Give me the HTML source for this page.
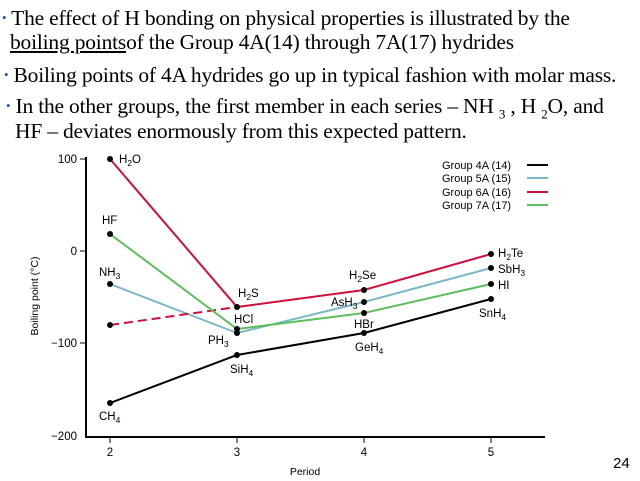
<!DOCTYPE html>
<html><head><style>
body{margin:0;width:640px;height:481px;background:#fff;overflow:hidden;position:relative;font-family:"Liberation Serif",serif;}
.t{position:absolute;font-size:21.5px;color:#000;white-space:nowrap;letter-spacing:-0.2px;line-height:24px}
.b{color:#1a4fd0;font-size:13px;vertical-align:3px}
svg{position:absolute;left:0;top:0}
</style></head><body>
<div class="t" style="left:2px;top:6px"><span class="b">•</span> The effect of H bonding on physical properties is illustrated by the</div>
<div class="t" style="left:10px;top:30px"><u>boiling points</u>of the Group 4A(14) through 7A(17) hydrides</div>
<div class="t" style="left:4px;top:63px"><span class="b">•</span> Boiling points of 4A hydrides go up in typical fashion with molar mass.</div>
<div class="t" style="left:6px;top:94px"><span class="b">•</span> In the other groups, the first member in each series – NH <sub style="font-size:13px">3</sub> , H <sub style="font-size:13px">2</sub>O, and</div>
<div class="t" style="left:15px;top:119px">HF – deviates enormously from this expected pattern.</div>
<svg width="640" height="481" font-family="Liberation Sans, sans-serif" font-size="11.5">
<g stroke="#000" stroke-width="2" fill="none">
<line x1="86" y1="157" x2="86" y2="437"/><line x1="85" y1="437" x2="545" y2="437"/>
</g>
<g stroke="#000" stroke-width="1">
<line x1="80" y1="159" x2="86" y2="159"/><line x1="80" y1="251" x2="86" y2="251"/><line x1="80" y1="343" x2="86" y2="343"/>
<line x1="110" y1="437" x2="110" y2="443"/><line x1="237" y1="437" x2="237" y2="443"/><line x1="364" y1="437" x2="364" y2="443"/><line x1="491" y1="437" x2="491" y2="443"/>
</g>
<g text-anchor="end"><text x="77" y="163">100</text><text x="77" y="255">0</text><text x="77" y="347">−100</text><text x="77" y="440">−200</text></g>
<g text-anchor="middle"><text x="110" y="456">2</text><text x="237" y="456">3</text><text x="364" y="456">4</text><text x="491" y="456">5</text><text x="305" y="475" font-size="10.5">Period</text></g>
<text transform="translate(38,296) rotate(-90)" text-anchor="middle" font-size="10.5">Boiling point (°C)</text>
<g fill="none" stroke-width="2">
<polyline stroke="#000" points="110,403 237,355 364,333 491,299"/>
<polyline stroke="#7ab8c8" points="110,284 237,333 364,302 491,268"/>
<polyline stroke="#d0103a" points="110,159 237,307 364,290 491,254"/>
<line stroke="#d0103a" x1="110" y1="325" x2="237" y2="307" stroke-dasharray="9,5"/>
<polyline stroke="#5cbf5c" points="110,234 237,329 364,313 491,284"/>
</g>
<g fill="#000">
<circle cx="110" cy="159" r="3"/><circle cx="110" cy="234" r="3"/><circle cx="110" cy="284" r="3"/><circle cx="110" cy="325" r="3"/><circle cx="110" cy="403" r="3"/>
<circle cx="237" cy="307" r="3"/><circle cx="237" cy="329" r="3"/><circle cx="237" cy="333" r="3"/><circle cx="237" cy="355" r="3"/>
<circle cx="364" cy="290" r="3"/><circle cx="364" cy="302" r="3"/><circle cx="364" cy="313" r="3"/><circle cx="364" cy="333" r="3"/>
<circle cx="491" cy="254" r="3"/><circle cx="491" cy="268" r="3"/><circle cx="491" cy="284" r="3"/><circle cx="491" cy="299" r="3"/>
</g>
<g font-size="11.5">
<text x="119" y="163">H<tspan font-size="8.5" dy="3">2</tspan><tspan dy="-3">O</tspan></text>
<text x="102" y="224">HF</text>
<text x="99" y="276">NH<tspan font-size="8.5" dy="3">3</tspan></text>
<text x="99" y="420">CH<tspan font-size="8.5" dy="3">4</tspan></text>
<text x="238" y="297">H<tspan font-size="8.5" dy="3">2</tspan><tspan dy="-3">S</tspan></text>
<text x="234" y="323">HCl</text>
<text x="208" y="344">PH<tspan font-size="8.5" dy="3">3</tspan></text>
<text x="230" y="373">SiH<tspan font-size="8.5" dy="3">4</tspan></text>
<text x="349" y="279">H<tspan font-size="8.5" dy="3">2</tspan><tspan dy="-3">Se</tspan></text>
<text x="331" y="306">AsH<tspan font-size="8.5" dy="3">3</tspan></text>
<text x="354" y="328">HBr</text>
<text x="355" y="351">GeH<tspan font-size="8.5" dy="3">4</tspan></text>
<text x="498" y="257">H<tspan font-size="8.5" dy="3">2</tspan><tspan dy="-3">Te</tspan></text>
<text x="498" y="273">SbH<tspan font-size="8.5" dy="3">3</tspan></text>
<text x="498" y="289">HI</text>
<text x="479" y="317">SnH<tspan font-size="8.5" dy="3">4</tspan></text>
</g>
<g font-size="11"><text x="442" y="169">Group 4A (14)</text><text x="442" y="182">Group 5A (15)</text><text x="442" y="196">Group 6A (16)</text><text x="442" y="209">Group 7A (17)</text></g>
<g stroke-width="2"><line x1="527" y1="165" x2="548" y2="165" stroke="#000"/><line x1="527" y1="178" x2="548" y2="178" stroke="#7ab8c8"/><line x1="527" y1="192" x2="548" y2="192" stroke="#d0103a"/><line x1="527" y1="205" x2="548" y2="205" stroke="#5cbf5c"/></g>
<text x="613" y="468" font-size="15">24</text>
</svg>
</body></html>
